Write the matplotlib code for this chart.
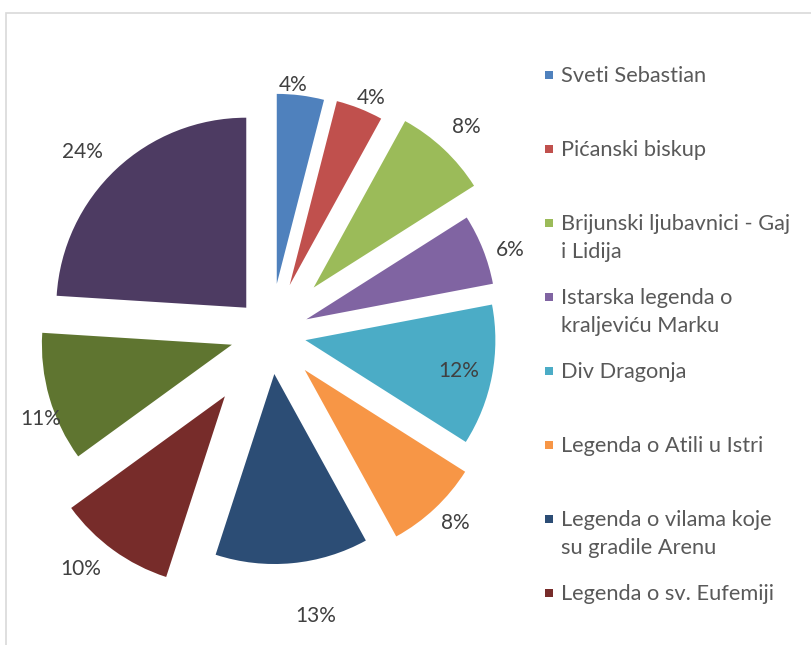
import numpy as np
import matplotlib
matplotlib.use("Agg")
import matplotlib.pyplot as plt
from matplotlib.patches import Rectangle

plt.rcParams['font.family'] = ['Lato', 'DejaVu Sans']

# ---- data ----
values = [4, 4, 8, 6, 12, 8, 13, 10, 11, 24]
pct_labels = ["4%", "4%", "8%", "6%", "12%", "8%", "13%", "10%", "11%", "24%"]
legend_labels = [
    "Sveti Sebastian",
    "Pićanski biskup",
    "Brijunski ljubavnici - Gaj\ni Lidija",
    "Istarska legenda o\nkraljeviću Marku",
    "Div Dragonja",
    "Legenda o Atili u Istri",
    "Legenda o vilama koje\nsu gradile Arenu",
    "Legenda o sv. Eufemiji",
]
colors = ["#4F81BD", "#C0504D", "#9BBB59", "#8064A2", "#4BACC6",
          "#F79646", "#2C4D75", "#772C2A", "#5F7530", "#4D3B62"]

# ---- style / layout (pixel units) ----
W, H = 812, 645
R = 190.0
cx, cy = 270.5, H - 333.5
explode_px = [50, 52, 63, 38.5, 35.5, 50, 40.7, 77.6, 40.2, 35.4]
label_r = [1.32, 1.35, 1.50, 1.34, 1.01, 1.39, 1.50, 1.59, 1.29, 1.38]
label_dang = [-2.0, 1.4, 0.2, 2.2, 0.1, -1.2, -3.8, 3.0, -3.9, -2.6]

fig = plt.figure(figsize=(W / 100, H / 100), dpi=100)
ax = fig.add_axes([0, 0, 1, 1])

wedges, _ = ax.pie(values, colors=colors, startangle=90, counterclock=False,
                   radius=R, center=(cx, cy),
                   explode=explode_px, frame=True)
ax.set_xlim(0, W)
ax.set_ylim(0, H)
ax.set_aspect('equal')
ax.axis('off')

# percentage labels
total = float(sum(values))
cum = np.cumsum([0] + values)
for i, v in enumerate(values):
    mid = (cum[i] + v / 2.0) / total * 360.0 + label_dang[i]
    t = np.deg2rad(mid)
    x = cx + label_r[i] * R * np.sin(t)
    y = cy + label_r[i] * R * np.cos(t)
    ax.text(x, y - 7, pct_labels[i], ha='center', va='baseline',
            fontsize=15, color='#404040')

# legend (Excel-style, entries evenly spaced by first line)
leg_x_marker = 549
leg_x_text = 561
leg_y0 = 75
leg_step = 74
line_h = 27.5
for i, lab in enumerate(legend_labels):
    yc = H - (leg_y0 + i * leg_step)
    ax.add_patch(Rectangle((leg_x_marker - 4, yc - 4), 8, 8,
                           facecolor=colors[i], edgecolor='none'))
    for k, line in enumerate(lab.split("\n")):
        ax.text(leg_x_text, yc - 7.5 - k * line_h, line, ha='left', va='baseline',
                fontsize=15.7, color='#595959')

# chart border (partially visible)
ax.add_patch(Rectangle((6.5, -20), W + 40, H - 12.5 + 20, fill=False,
                       edgecolor='#D9D9D9', linewidth=1.2, clip_on=False))

fig.savefig("out.png", dpi=100)
